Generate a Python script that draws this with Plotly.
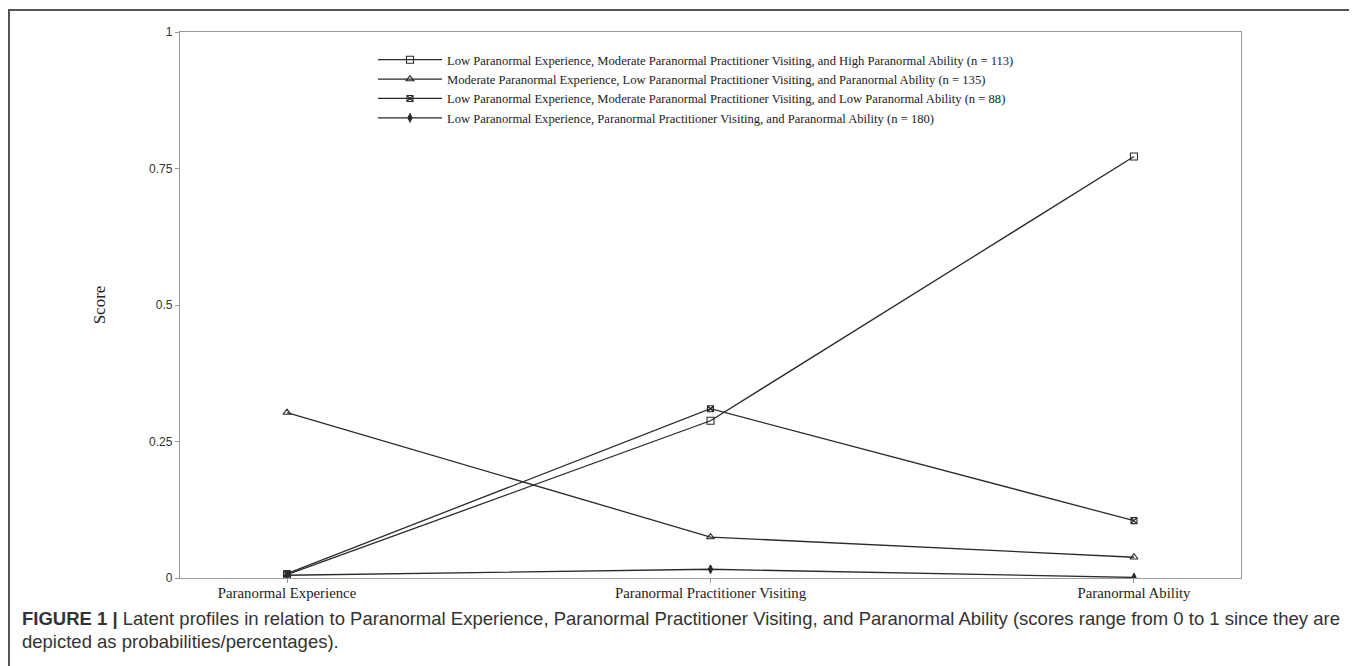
import plotly.graph_objects as go

categories = ["Paranormal Experience", "Paranormal Practitioner Visiting", "Paranormal Ability"]
series_names = [
    "Low Paranormal Experience, Moderate Paranormal Practitioner Visiting, and High Paranormal Ability (n = 113)",
    "Moderate Paranormal Experience, Low Paranormal Practitioner Visiting, and Paranormal Ability (n = 135)",
    "Low Paranormal Experience, Moderate Paranormal Practitioner Visiting, and Low Paranormal Ability (n = 88)",
    "Low Paranormal Experience, Paranormal Practitioner Visiting, and Paranormal Ability (n = 180)",
]
s1_values = [0.006, 0.288, 0.772]
s2_values = [0.303, 0.075, 0.038]
s3_values = [0.008, 0.310, 0.105]
s4_values = [0.005, 0.016, 0.001]
y_ticks = [0, 0.25, 0.5, 0.75, 1]
y_tick_labels = ["0", "0.25", "0.5", "0.75", "1"]

symbols = ["square-open", "triangle-up-open", "square-x-open", "diamond-tall"]
sizes = [7, 7, 6, 6]
all_values = [s1_values, s2_values, s3_values, s4_values]

W, H = 1357, 666
L, R, T, B = 172, 124, 24, 96

fig = go.Figure()
for name, vals, sym, sz in zip(series_names, all_values, symbols, sizes):
    fig.add_trace(go.Scatter(
        x=list(range(len(categories))), y=vals, name=name, mode="lines+markers",
        line=dict(color="#2a2a2a", width=1.3),
        marker=dict(symbol=sym, size=sz, color="#2a2a2a", line=dict(color="#2a2a2a", width=1.1)),
    ))

pw, ph = W - L - R, H - T - B
def px_to_paper_x(px):
    return (px - L) / pw
def px_to_paper_y(py):
    return (H - B - py) / ph

fig.update_layout(
    width=W, height=H,
    margin=dict(l=L, r=R, t=T, b=B, autoexpand=False),
    paper_bgcolor="white", plot_bgcolor="white",
    showlegend=True,
    legend=dict(
        x=px_to_paper_x(365), y=px_to_paper_y(37), xanchor="left", yanchor="top",
        font=dict(family="Liberation Serif, Times New Roman, serif", size=12.6, color="#222"),
        bgcolor="rgba(0,0,0,0)", itemwidth=64, tracegroupgap=0,
    ),
    xaxis=dict(
        range=[-0.2527, 2.2527], tickmode="array", tickvals=list(range(len(categories))),
        ticktext=categories, showgrid=False, zeroline=False,
        showline=True, linecolor="#9a9a9a", linewidth=1.3, mirror=True,
        ticks="outside", ticklen=4, tickcolor="#9a9a9a", ticklabelstandoff=-3,
        tickfont=dict(family="Liberation Serif, Times New Roman, serif", size=14.8, color="#222"),
    ),
    yaxis=dict(
        range=[0, 1], tickmode="array", tickvals=y_ticks, ticktext=y_tick_labels,
        showgrid=False, zeroline=False,
        showline=True, linecolor="#9a9a9a", linewidth=1.3, mirror=True,
        ticks="outside", ticklen=4, tickcolor="#9a9a9a",
        tickfont=dict(family="Liberation Sans, Arial, sans-serif", size=12, color="#333"),
        title=dict(text="Score", standoff=39,
                   font=dict(family="Liberation Serif, Times New Roman, serif", size=17, color="#222")),
    ),
)

# outer figure frame
fig.add_shape(type="rect", xref="paper", yref="paper",
              x0=px_to_paper_x(1), x1=px_to_paper_x(1347),
              y0=px_to_paper_y(720), y1=px_to_paper_y(2),
              line=dict(color="#555555", width=2), fillcolor="rgba(0,0,0,0)", layer="below")

caption_font = dict(family="Liberation Sans, Arial, sans-serif", size=18.5, color="#333")
fig.add_annotation(
    xref="paper", yref="paper", x=px_to_paper_x(12), y=px_to_paper_y(610),
    xanchor="left", yanchor="middle", showarrow=False, align="left", font=caption_font,
    text="<b>FIGURE 1 |</b> Latent profiles in relation to Paranormal Experience, Paranormal Practitioner Visiting, and Paranormal Ability (scores range from 0 to 1 since they are",
)
fig.add_annotation(
    xref="paper", yref="paper", x=px_to_paper_x(12), y=px_to_paper_y(633),
    xanchor="left", yanchor="middle", showarrow=False, align="left", font=caption_font,
    text="depicted as probabilities/percentages).",
)

fig.write_html("out.html")
